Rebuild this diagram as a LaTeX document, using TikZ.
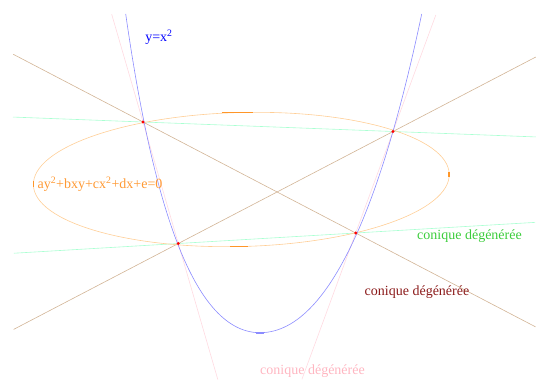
\documentclass[tikz,border=0pt]{standalone}
\usepackage{fontspec}
\setmainfont{Liberation Serif}
\usetikzlibrary{calc}
\definecolor{parabcol}{RGB}{140,140,255}
\definecolor{ellcol}{RGB}{255,206,150}
\definecolor{ellmark}{RGB}{255,150,40}
\definecolor{greenln}{RGB}{170,255,210}
\definecolor{brownln}{RGB}{210,180,150}
\definecolor{pinkln}{RGB}{255,218,225}
\definecolor{eqcol}{RGB}{255,153,51}
\definecolor{greentxt}{RGB}{60,205,60}
\definecolor{browntxt}{RGB}{139,26,26}
\definecolor{pinktxt}{RGB}{255,182,193}

\begin{document}
\begin{tikzpicture}[x=1pt,y=-1pt,
  conicline/.style={line width=0.6pt},
  markline/.style={line width=1.6pt},
  lbl/.style={font=\fontsize{14}{16}\selectfont,inner sep=0pt}]
  \useasboundingbox (0,0) rectangle (536,380);
  % les quatre points de base
  \coordinate (P1) at (143,122);
  \coordinate (P2) at (393,131.5);
  \coordinate (P3) at (178.3,243.5);
  \coordinate (P4) at (355.7,233);
  % coniques degenerees (paires de droites)
  \draw[conicline,greenln] ($(P1)!-0.52!(P2)$) -- ($(P1)!1.572!(P2)$);
  \draw[conicline,greenln] ($(P3)!-0.927!(P4)$) -- ($(P3)!2.011!(P4)$);
  \draw[conicline,brownln] ($(P1)!-0.61!(P4)$) -- ($(P1)!1.845!(P4)$);
  \draw[conicline,brownln] ($(P3)!-0.767!(P2)$) -- ($(P3)!1.665!(P2)$);
  \draw[conicline,pinkln] ($(P1)!-0.887!(P3)$) -- ($(P1)!2.12!(P3)$);
  \draw[conicline,pinkln] ($(P2)!-1.147!(P4)$) -- ($(P2)!2.441!(P4)$);
  % ellipse
  \draw[conicline,ellcol,rotate around={1.5:(241.3,179.5)}] (241.3,179.5) ellipse[x radius=208,y radius=67];
  \draw[markline,ellmark] (222,112.6) -- (253,112.6);
  \draw[markline,ellmark] (230,246.4) -- (248,246.4);
  \draw[markline,ellmark] (449.2,172) -- (449.2,177);
  \draw[markline,ellmark] (33.4,181) -- (33.4,187);
  % parabole
  \draw[conicline,parabcol] (125.7,14) .. controls (149.8,182.3) and (188,332.7) .. (260,332.7)
    .. controls (335,332.7) and (386.7,180.4) .. (421.7,14);
  \draw[markline,parabcol] (256,332.7) -- (264,332.7);
  \foreach \p in {P1,P2,P3,P4}
    \fill[red] (\p) circle[radius=1.6];
  % etiquettes
  \node[lbl,text=blue] (parablbl) at (159,37) {y=x\textsuperscript{2}};
  \node[lbl,text=eqcol] (eqlbl) at (100,184) {ay\textsuperscript{2}+bxy+cx\textsuperscript{2}+dx+e=0};
  \node[lbl,text=greentxt] (greenlbl) at (469.5,236.5) {conique dégénérée};
  \node[lbl,text=browntxt] (brownlbl) at (417,292) {conique dégénérée};
  \node[lbl,text=pinktxt] (pinklbl) at (312.5,371.5) {conique dégénérée};
\end{tikzpicture}
\end{document}
